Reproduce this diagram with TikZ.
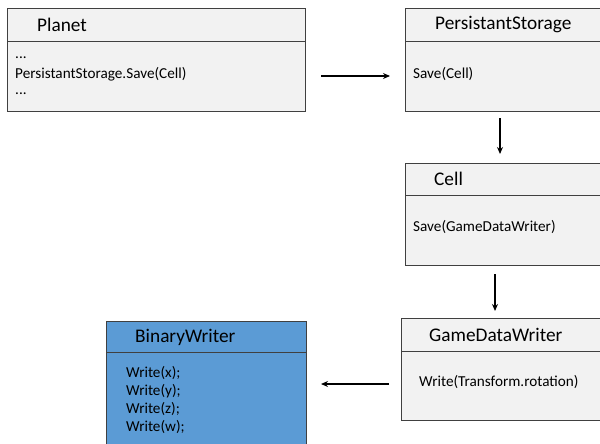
\documentclass[tikz,border=0pt]{standalone}
\usepackage{fontspec}
\setmainfont{Carlito}
\usetikzlibrary{arrows.meta}
\definecolor{boxfill}{HTML}{F2F2F2}
\definecolor{boxline}{HTML}{404040}
\definecolor{bluefill}{HTML}{5B9BD5}
\tikzset{
  classbox/.style={draw=boxline, line width=1pt, fill=boxfill, anchor=north west, inner sep=0pt, outer sep=0pt},
  bluebox/.style={classbox, fill=bluefill},
  divider/.style={draw=boxline, line width=1pt},
  title/.style={anchor=west, inner sep=0pt, font=\fontsize{19.3}{22}\selectfont},
  body/.style={anchor=west, inner sep=0pt, font=\fontsize{15.2}{18}\selectfont},
  flow/.style={line width=1.8pt, -{Stealth[length=7pt,width=6pt]}},
}
\begin{document}
\begin{tikzpicture}[x=1pt,y=-1pt]
\useasboundingbox (0,0) rectangle (600,444);
\clip (0,0) rectangle (600,444);
\fill[white] (0,0) rectangle (600,444);

% Planet
\node[classbox, minimum width=298pt, minimum height=102pt] (planet) at (7,9) {};
\draw[divider] (7,42) -- (305,42);
\node[title] (planetT) at (37,25) {Planet};
\node[body] (planetB1) at (15,58) {...};
\node[body] (planetB2) at (15,74) {PersistantStorage.Save(Cell)};
\node[body] (planetB3) at (15,94) {...};

% PersistantStorage
\node[classbox, minimum width=200pt, minimum height=102pt] (storage) at (405,9) {};
\draw[divider] (405,42) -- (605,42);
\node[title] (storageT) at (435,25) {PersistantStorage};
\node[body] (storageB) at (413,74) {Save(Cell)};

% Cell
\node[classbox, minimum width=200pt, minimum height=102pt] (cell) at (405,163) {};
\draw[divider] (405,195) -- (605,195);
\node[title] (cellT) at (434,179) {Cell};
\node[body] (cellB) at (413,227) {Save(GameDataWriter)};

% GameDataWriter
\node[classbox, minimum width=204pt, minimum height=102pt] (gdw) at (401,318) {};
\draw[divider] (401,351) -- (605,351);
\node[title] (gdwT) at (429,335) {GameDataWriter};
\node[body] (gdwB) at (419,382) {Write(Transform.rotation)};

% BinaryWriter
\node[bluebox, minimum width=200pt, minimum height=140pt] (bw) at (106,321) {};
\draw[divider] (106,352) -- (306,352);
\node[title] (bwT) at (135,337) {BinaryWriter};
\node[body] (bwB1) at (126,373) {Write(x);};
\node[body] (bwB2) at (126,391) {Write(y);};
\node[body] (bwB3) at (126,409) {Write(z);};
\node[body] (bwB4) at (126,427) {Write(w);};

% connector end points
\coordinate (a1s) at (321,76);
\coordinate (a1e) at (390,76);
\coordinate (a2s) at (500,118);
\coordinate (a2e) at (500,154);
\coordinate (a3s) at (495,274);
\coordinate (a3e) at (495,311);
\coordinate (a4s) at (389,384);
\coordinate (a4e) at (321,384);

\draw[flow] (a1s) -- (a1e);
\draw[flow] (a2s) -- (a2e);
\draw[flow] (a3s) -- (a3e);
\draw[flow] (a4s) -- (a4e);
\end{tikzpicture}
\end{document}
